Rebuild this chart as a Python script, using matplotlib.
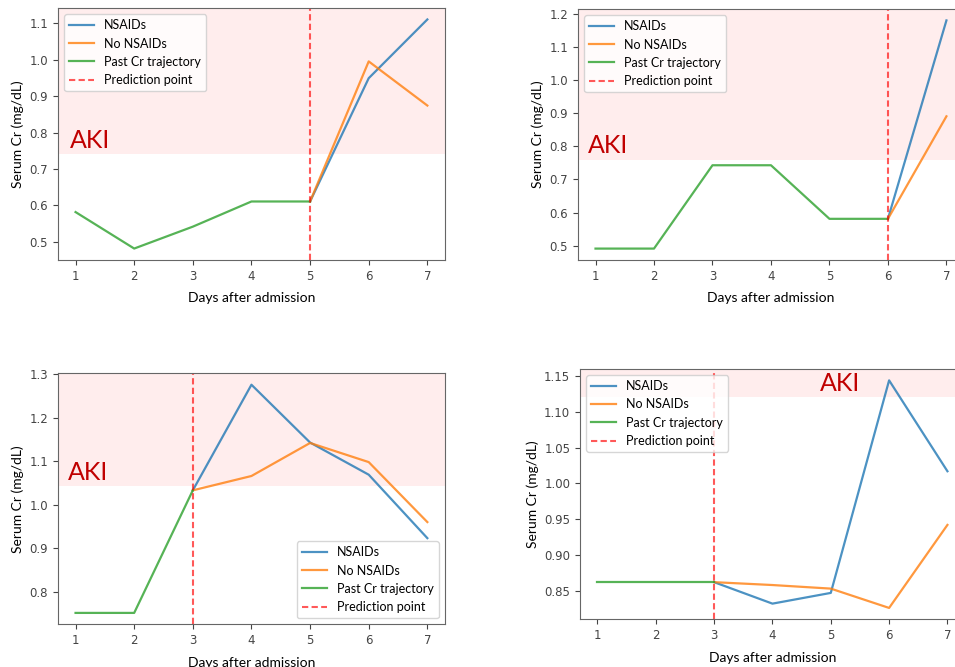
import matplotlib.pyplot as plt

plt.rcParams['font.family'] = ['Lato', 'DejaVu Sans']

# days for each panel
days = [1, 2, 3, 4, 5, 6, 7]

# panel 1 (top-left), prediction at day 5
p1_past = [0.582, 0.482, 0.542, 0.611, 0.611]
p1_nsaid = [0.611, 0.949, 1.110]
p1_no = [0.611, 0.995, 0.874]
p1_pred = 5
p1_aki = 0.742

# panel 2 (top-right), prediction at day 6
p2_past = [0.491, 0.491, 0.743, 0.743, 0.581, 0.581]
p2_nsaid = [0.581, 1.181]
p2_no = [0.581, 0.891]
p2_pred = 6
p2_aki = 0.758

# panel 3 (bottom-left), prediction at day 3
p3_past = [0.751, 0.751, 1.033]
p3_nsaid = [1.033, 1.276, 1.143, 1.069, 0.923]
p3_no = [1.033, 1.066, 1.142, 1.098, 0.960]
p3_pred = 3
p3_aki = 1.044

# panel 4 (bottom-right), prediction at day 3
p4_past = [0.862, 0.862, 0.862]
p4_nsaid = [0.862, 0.832, 0.847, 1.144, 1.017]
p4_no = [0.862, 0.858, 0.853, 0.826, 0.942]
p4_pred = 3
p4_aki = 1.121

panels = [
    (p1_past, p1_nsaid, p1_no, p1_pred, p1_aki, [0.0607, 0.6102, 0.4052, 0.3778], 'upper left', (0.90, 0.758)),
    (p2_past, p2_nsaid, p2_no, p2_pred, p2_aki, [0.6052, 0.6102, 0.4042, 0.3763], 'upper left', (0.87, 0.781)),
    (p3_past, p3_nsaid, p3_no, p3_pred, p3_aki, [0.0607, 0.0640, 0.4052, 0.3763], 'lower right', (0.87, 1.056)),
    (p4_past, p4_nsaid, p4_no, p4_pred, p4_aki, [0.6073, 0.0715, 0.4031, 0.3753], 'upper left', (4.82, 1.129)),
]

fig = plt.figure(figsize=(9.55, 6.67), dpi=100)

for past, nsaid, no, pred, aki, rect, loc, txt in panels:
    ax = fig.add_axes(rect)
    x_past = days[:len(past)]
    x_fut = days[pred - 1:]
    ax.plot(x_fut, nsaid, color='tab:blue', lw=1.6, alpha=0.8, label='NSAIDs')
    ax.plot(x_fut, no, color='tab:orange', lw=1.6, alpha=0.8, label='No NSAIDs')
    ax.plot(x_past, past, color='tab:green', lw=1.6, alpha=0.8, label='Past Cr trajectory')
    ax.axvline(pred, color='red', ls='--', lw=1.5, alpha=0.65, dashes=(3, 1.6),
               label='Prediction point')
    ylo, yhi = ax.get_ylim()
    ax.axhspan(aki, yhi + 1, color='red', alpha=0.07, lw=0)
    ax.set_ylim(ylo, yhi)
    ax.set_xlim(0.7, 7.3)
    ax.text(txt[0], txt[1], 'AKI', color='#c00000', fontsize=18)
    ax.set_xticks(days)
    ax.tick_params(labelsize=8.5, colors='#444444')
    for lab in ax.get_xticklabels() + ax.get_yticklabels():
        lab.set_family('DejaVu Sans')
    for s in ax.spines.values():
        s.set_color('#666666')
    ax.set_xlabel('Days after admission', fontsize=10, labelpad=7)
    ax.set_ylabel('Serum Cr (mg/dL)', fontsize=10)
    ax.legend(loc=loc, fontsize=9)

fig.savefig('out.png', dpi=100)
